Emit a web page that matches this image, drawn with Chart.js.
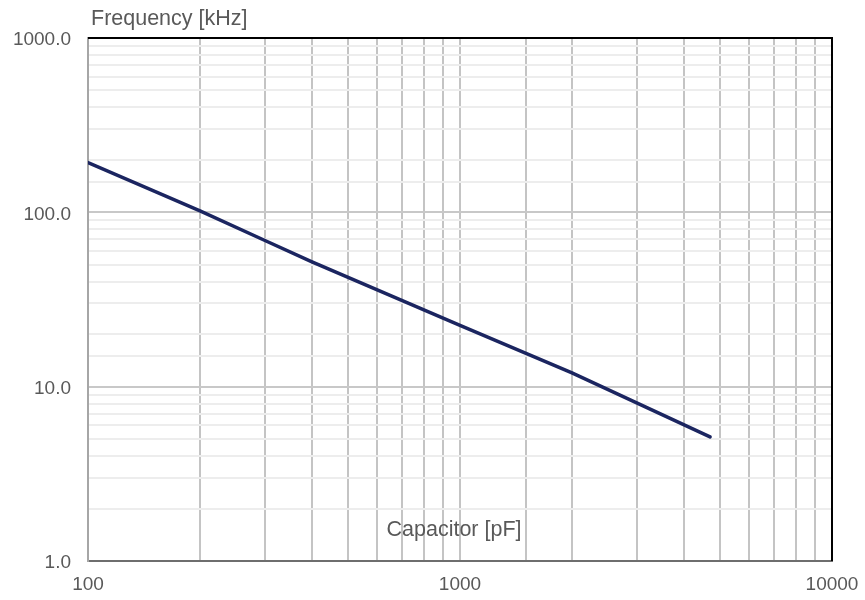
<!DOCTYPE html>
<html>
<head>
<meta charset="utf-8">
<script src="https://cdn.jsdelivr.net/npm/chart.js@4/dist/chart.umd.min.js"></script>
<style>
  html, body { margin: 0; padding: 0; background: #fff; }
  #wrap { width: 865px; height: 600px; position: relative; }
</style>
</head>
<body>
<div id="wrap"><canvas id="freqChart"></canvas></div>
<script>
// data
const capacitance = [100, 200, 300, 400, 1000, 2000, 4700];
const frequency = [193, 102, 68.7, 52, 22.5, 12.0, 5.15];
const xTickLabels = [100, 1000, 10000];
const yTickLabels = [1, 10, 100, 1000];

const FONT = '"Liberation Sans", Arial, sans-serif';
const TEXT_COLOR = '#595959';

function isPow10(v) {
    const l = Math.log10(v);
    return Math.abs(l - Math.round(l)) < 1e-9;
}

// frame + axis titles
const framePlugin = {
    id: 'frame',
    afterDraw(chart) {
        const { ctx, chartArea } = chart;
        const { left, right, top, bottom } = chartArea;
        ctx.save();
        ctx.lineWidth = 2;
        ctx.strokeStyle = '#000000';
        ctx.beginPath();
        ctx.moveTo(left, top);
        ctx.lineTo(right, top);
        ctx.lineTo(right, bottom);
        ctx.stroke();

        ctx.fillStyle = TEXT_COLOR;
        ctx.font = '21.5px ' + FONT;
        ctx.textBaseline = 'alphabetic';
        ctx.textAlign = 'left';
        ctx.fillText('Frequency [kHz]', 91, 25);
        ctx.textAlign = 'center';
        ctx.fillText('Capacitor [pF]', 454, 536);
        ctx.restore();
    }
};

const points = capacitance.map((c, i) => ({ x: c, y: frequency[i] }));

new Chart(document.getElementById('freqChart'), {
    type: 'line',
    data: {
        datasets: [{
            data: points,
            borderColor: '#1b2560',
            borderWidth: 3.5,
            borderCapStyle: 'round',
            pointRadius: 0,
            tension: 0,
            fill: false
        }]
    },
    options: {
        responsive: true,
        maintainAspectRatio: false,
        animation: false,
        layout: { padding: { left: 0, right: 33, top: 38, bottom: 0 } },
        plugins: {
            legend: { display: false },
            tooltip: { enabled: false }
        },
        scales: {
            x: {
                type: 'logarithmic',
                min: 100,
                max: 10000,
                afterFit(scale) {
                    scale.height = 39;
                    scale.paddingLeft = 0;
                    scale.paddingRight = 0;
                },
                grid: {
                    color: '#c4c4c4',
                    lineWidth: 2,
                    drawTicks: false
                },
                border: { color: '#6e6e6e', width: 2 },
                ticks: {
                    autoSkip: false,
                    maxRotation: 0,
                    padding: 12,
                    color: TEXT_COLOR,
                    font: { family: FONT, size: 19 },
                    callback: (v) => xTickLabels.includes(v) ? String(v) : ''
                }
            },
            y: {
                type: 'logarithmic',
                min: 1,
                max: 1000,
                afterFit(scale) {
                    scale.width = 88;
                    scale.paddingTop = 0;
                    scale.paddingBottom = 0;
                },
                grid: {
                    color: (ctx) => {
                        const v = ctx.tick && ctx.tick.value;
                        return v && isPow10(v) ? '#c8c8c8' : '#ededed';
                    },
                    lineWidth: 2,
                    drawTicks: false
                },
                border: { color: '#a6a6a6', width: 2 },
                ticks: {
                    autoSkip: false,
                    padding: 17,
                    labelOffset: 2,
                    color: TEXT_COLOR,
                    font: { family: FONT, size: 19 },
                    callback: (v) => yTickLabels.includes(v) ? v.toFixed(1) : ''
                }
            }
        }
    },
    plugins: [framePlugin]
});
</script>
</body>
</html>
